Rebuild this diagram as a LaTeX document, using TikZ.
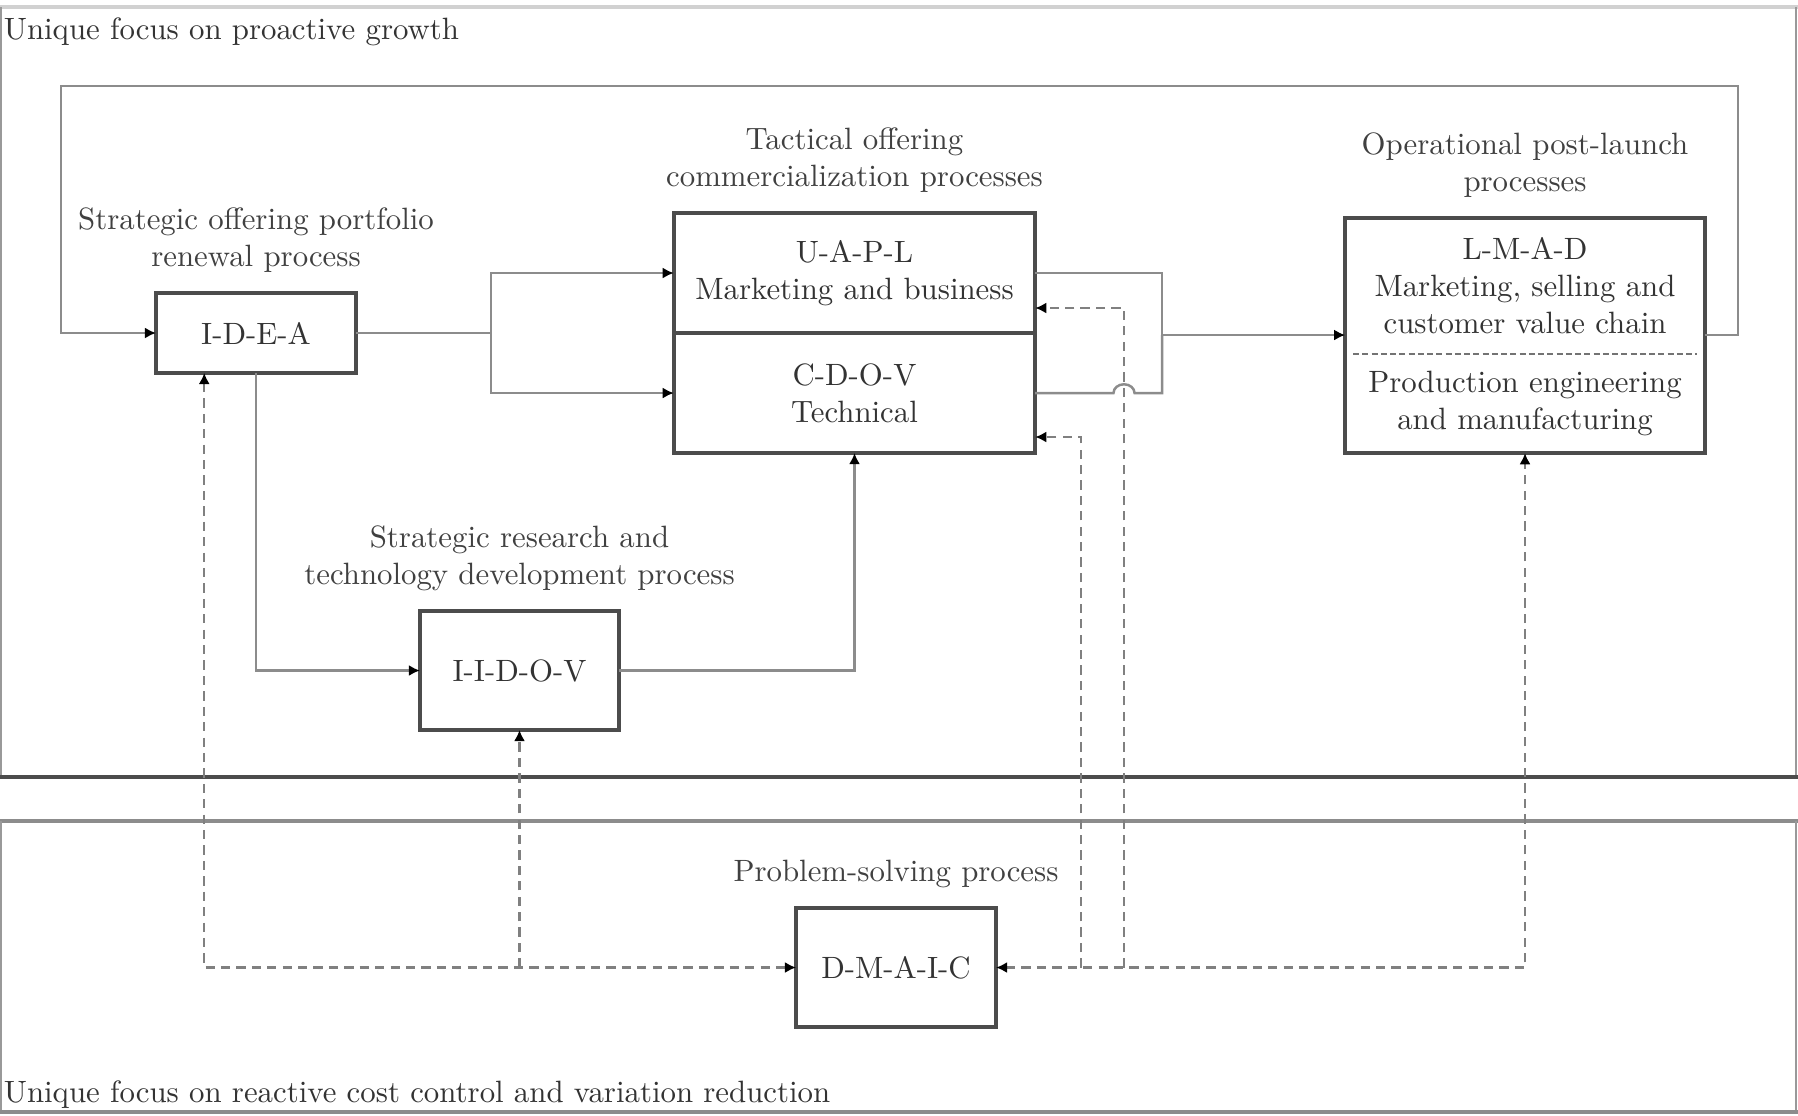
\documentclass[tikz,border=0pt]{standalone}
\usepackage{tikz}
\usetikzlibrary{positioning,arrows.meta}
\tikzset{
	procbox/.style={draw=black!70, line width=1.2pt, text=black!80, align=center, outer sep=0pt, inner sep=2pt},
	halfbox/.style={text=black!80, align=center, outer sep=0pt, inner sep=2pt},
	proclabel/.style={text=black!75, align=center},
	flowline/.style={draw=black!45, line width=0.8pt},
	dashline/.style={draw=black!50, line width=0.7pt, dash pattern=on 3pt off 2pt},
	onetip/.style={-{Latex[black,length=3.6pt,width=3.6pt]}},
	twotips/.style={{Latex[black,length=3.6pt,width=3.6pt]}-{Latex[black,length=3.6pt,width=3.6pt]}}
}

\begin{document}
\begin{tikzpicture}[x=0.0114cm, y=-0.0114cm]
			%%%%% START %%%%%
			\useasboundingbox (0,0) rectangle (1798,1115);
			
			\draw[line width=1.4pt, color=black!18] (0,7) -- (1798,7);
			\draw[line width=0.6pt, color=black!40] (1,7) -- (1,777);
			\draw[line width=0.6pt, color=black!40] (1796,7) -- (1796,777);
			\draw[line width=1.2pt, color=black!70] (0,777) -- (1798,777);
			
			\draw[line width=1.4pt, color=black!45] (0,821) -- (1798,821);
			\draw[line width=0.6pt, color=black!40] (1,821) -- (1,1112);
			\draw[line width=0.6pt, color=black!40] (1796,821) -- (1796,1112);
			\draw[line width=1.2pt, color=black!45] (0,1112) -- (1798,1112);
			
			\node[anchor=base west, text=black!80] (growthlbl) at (-7,39) {Unique focus on proactive growth};
			\node[anchor=base west, text=black!80] (costlbl) at (-7,1102) {Unique focus on reactive cost control and variation reduction};
			
			\node[procbox, minimum width=2.28cm, minimum height=0.91cm] (idea) at (256,333) {I-D-E-A};
			\node[proclabel, above=3pt of idea] (idealbl) {Strategic offering portfolio\\renewal process};
			
			\node[procbox, minimum width=4.12cm, minimum height=1.368cm] (uapl) at (854.5,273) {U-A-P-L\\Marketing and business};
			\node[procbox, minimum width=4.12cm, minimum height=1.368cm, below=0pt of uapl] (cdov) {C-D-O-V\\Technical};
			\node[proclabel, above=3pt of uapl] (uapllbl) {Tactical offering\\commercialization processes};
			
			\node[halfbox, minimum width=4.1cm, minimum height=1.55cm] (lmadtop) at (1525,286) {L-M-A-D\\Marketing, selling and\\customer value chain};
			\node[halfbox, minimum width=4.1cm, minimum height=1.13cm, below=0pt of lmadtop] (lmadbot) {Production engineering\\and manufacturing};
			\draw[line width=1.2pt, color=black!70] (lmadtop.north west) rectangle (lmadbot.south east);
			\draw[line width=0.6pt, color=black!55, dash pattern=on 2pt off 1pt] ([xshift=0.09cm]lmadtop.south west) -- ([xshift=-0.09cm]lmadtop.south east);
			\node[proclabel, above=3pt of lmadtop] (lmadlbl) {Operational post-launch\\processes};
			
			\node[procbox, minimum width=2.27cm, minimum height=1.357cm] (iidov) at (519.5,670.5) {I-I-D-O-V};
			\node[proclabel, above=3pt of iidov] (iidovlbl) {Strategic research and\\technology development process};
			
			\node[procbox, minimum width=2.28cm, minimum height=1.357cm] (dmaic) at (896,967.5) {D-M-A-I-C};
			\node[proclabel, above=3pt of dmaic] (dmaiclbl) {Problem-solving process};
			
			\coordinate (split) at (491,333);
			\coordinate (merge) at (1162,335);
			\coordinate (loopne) at (1738,86);
			\coordinate (loopnw) at (61,86);
			\coordinate (cdovtap) at (1081,437);
			\coordinate (uapltap) at (1124,308);
			
			\draw[flowline] (idea.east) -- (split);
			\draw[flowline, onetip] (split) |- (uapl.west);
			\draw[flowline, onetip] (split) |- (cdov.west);
			\draw[flowline] (uapl.east) -| (merge);
			\draw[flowline] (cdov.east) -- ([xshift=-0.12cm]cdov.east -| uapltap) arc[start angle=180, end angle=0, x radius=0.12cm, y radius=0.1cm] -| (merge);
			\draw[flowline, onetip] (merge) -- (merge -| lmadtop.west);
			\draw[flowline, onetip] (merge -| lmadtop.east) -| (loopne) -- (loopnw) |- (idea.west);
			\draw[flowline, onetip] (idea.south) |- (iidov.west);
			\draw[flowline, onetip] (iidov.east) -| (cdov.south);
			
			\draw[dashline, twotips] ([xshift=-0.59cm]idea.south) |- (dmaic.west);
			\draw[dashline, onetip] (dmaic.west -| iidov.south) -- (iidov.south);
			\draw[dashline, twotips] (dmaic.east) -| (lmadbot.south);
			\draw[dashline, onetip] (cdovtap |- dmaic.east) -- (cdovtap) -- (cdovtap -| cdov.east);
			\draw[dashline, onetip] (uapltap |- dmaic.east) -- (uapltap) -- (uapltap -| uapl.east);
			%%%%% END %%%%%
\end{tikzpicture}
\end{document}
